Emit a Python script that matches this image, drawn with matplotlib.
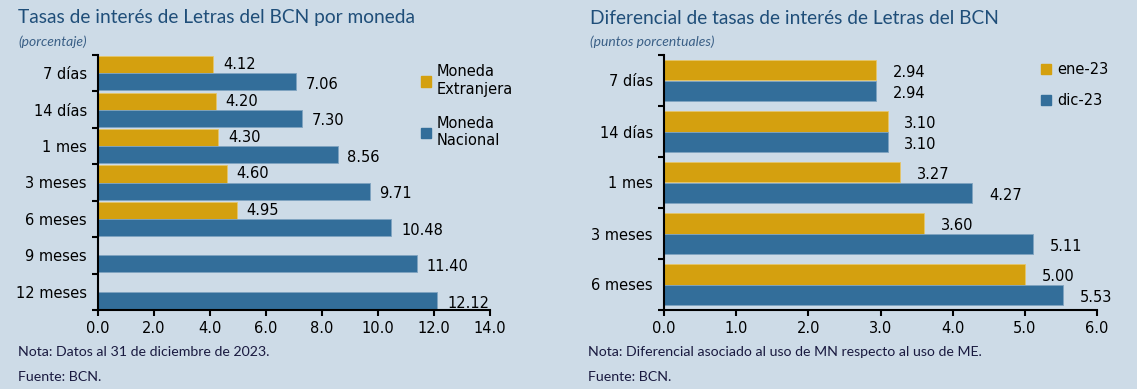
import numpy as np
import matplotlib.pyplot as plt
from matplotlib.patches import Patch

# data
plazos_izq = ['7 días', '14 días', '1 mes', '3 meses', '6 meses', '9 meses', '12 meses']
me = [4.12, 4.20, 4.30, 4.60, 4.95, None, None]
mn = [7.06, 7.30, 8.56, 9.71, 10.48, 11.40, 12.12]

plazos_der = ['7 días', '14 días', '1 mes', '3 meses', '6 meses']
ene23 = [2.94, 3.10, 3.27, 3.60, 5.00]
dic23 = [2.94, 3.10, 4.27, 5.11, 5.53]

BG = '#cddbe7'
GOLD = '#d4a00f'
BLUE = '#336e9a'
TITLE = '#1f4e79'

W, H = 1137, 389
fig = plt.figure(figsize=(W / 100, H / 100), dpi=100, facecolor=BG)


def px_axes(x0, x1, y0, y1):
    return fig.add_axes([x0 / W, 1 - y1 / H, (x1 - x0) / W, (y1 - y0) / H], facecolor=BG)


def style(ax, n, xmax, step):
    ax.set_ylim(n - 0.5, -0.5)
    ax.set_xlim(0, xmax)
    ax.set_xticks(np.arange(0, xmax + 0.01, step))
    ax.set_xticklabels([f'{v:.1f}' for v in np.arange(0, xmax + 0.01, step)])
    ax.set_yticks(np.arange(-0.5, n, 1.0), minor=True)
    ax.tick_params(axis='y', which='major', length=0, labelsize=10.5, pad=8)
    ax.tick_params(axis='y', which='minor', length=4, width=1.5, direction='out')
    ax.tick_params(axis='x', length=4, width=1.5, direction='out', labelsize=10.5, pad=4)
    for s in ['top', 'right']:
        ax.spines[s].set_visible(False)
    for s in ['left', 'bottom']:
        ax.spines[s].set_linewidth(1.5)


# left chart
ax1 = px_axes(98, 490, 55, 310)
y = np.arange(len(plazos_izq))
h = 0.47
me_vals = [v if v is not None else 0 for v in me]
ax1.barh(y - h / 2, me_vals, height=h, color=GOLD, edgecolor='#e6c66a', linewidth=0.6)
ax1.barh(y + h / 2, mn, height=h, color=BLUE, edgecolor='#7fa3c0', linewidth=0.6)
for i, v in enumerate(me):
    if v is not None:
        ax1.annotate(f'{v:.2f}', (v, i - h / 2), xytext=(7, 0), textcoords='offset points',
                     va='center', fontsize=10.5)
for i, v in enumerate(mn):
    ax1.annotate(f'{v:.2f}', (v, i + h / 2), xytext=(7, -2), textcoords='offset points',
                 va='center', fontsize=10.5)
ax1.set_yticks(y)
ax1.set_yticklabels(plazos_izq)
style(ax1, len(plazos_izq), 14, 2)

# right chart
ax2 = px_axes(664, 1097, 55, 310)
y2 = np.arange(len(plazos_der))
h2 = 0.41
ax2.barh(y2 - h2 / 2, ene23, height=h2, color=GOLD, edgecolor='#e6c66a', linewidth=0.6)
ax2.barh(y2 + h2 / 2, dic23, height=h2, color=BLUE, edgecolor='#7fa3c0', linewidth=0.6)
for i, v in enumerate(ene23):
    ax2.annotate(f'{v:.2f}', (v, i - h2 / 2), xytext=(12, -2), textcoords='offset points',
                 va='center', fontsize=10.5)
for i, v in enumerate(dic23):
    ax2.annotate(f'{v:.2f}', (v, i + h2 / 2), xytext=(12, -2), textcoords='offset points',
                 va='center', fontsize=10.5)
ax2.set_yticks(y2)
ax2.set_yticklabels(plazos_der)
style(ax2, len(plazos_der), 6, 1)

# legends
ax1.legend([Patch(color=GOLD), Patch(color=BLUE)],
           ['Moneda\nExtranjera', 'Moneda\nNacional'],
           loc='upper left', bbox_to_anchor=(0.79, 1.015), frameon=False,
           fontsize=10.5, handlelength=0.7, handleheight=0.7, handletextpad=0.4,
           labelspacing=1.3)
ax2.legend([Patch(color=GOLD), Patch(color=BLUE)], ['ene-23', 'dic-23'],
           loc='upper left', bbox_to_anchor=(0.84, 1.025), frameon=False,
           fontsize=10.5, handlelength=0.7, handleheight=0.7, handletextpad=0.4,
           labelspacing=1.1)

# titles and notes
tfont = dict(family='Lato', color=TITLE, fontsize=13.8, va='center', ha='left')
sfont = dict(family='Lato', color='#3a5f86', fontsize=10, style='italic', va='center', ha='left')
fig.text(18 / W, 1 - 18 / H, 'Tasas de interés de Letras del BCN por moneda', **tfont)
fig.text(18 / W, 1 - 42 / H, '(porcentaje)', **sfont)
fig.text(590 / W, 1 - 18 / H, 'Diferencial de tasas de interés de Letras del BCN', **tfont)
fig.text(590 / W, 1 - 42 / H, '(puntos porcentuales)', **sfont)

nfont = dict(family='Lato', fontsize=10.2, color='#1a1a40', va='center', ha='left')
fig.text(18 / W, 1 - 352 / H, 'Nota: Datos al 31 de diciembre de 2023.', **nfont)
fig.text(18 / W, 1 - 377 / H, 'Fuente: BCN.', **nfont)
fig.text(588 / W, 1 - 352 / H, 'Nota: Diferencial asociado al uso de MN respecto al uso de ME.', **nfont)
fig.text(588 / W, 1 - 377 / H, 'Fuente: BCN.', **nfont)

fig.savefig('out.png', dpi=100, facecolor=BG)
